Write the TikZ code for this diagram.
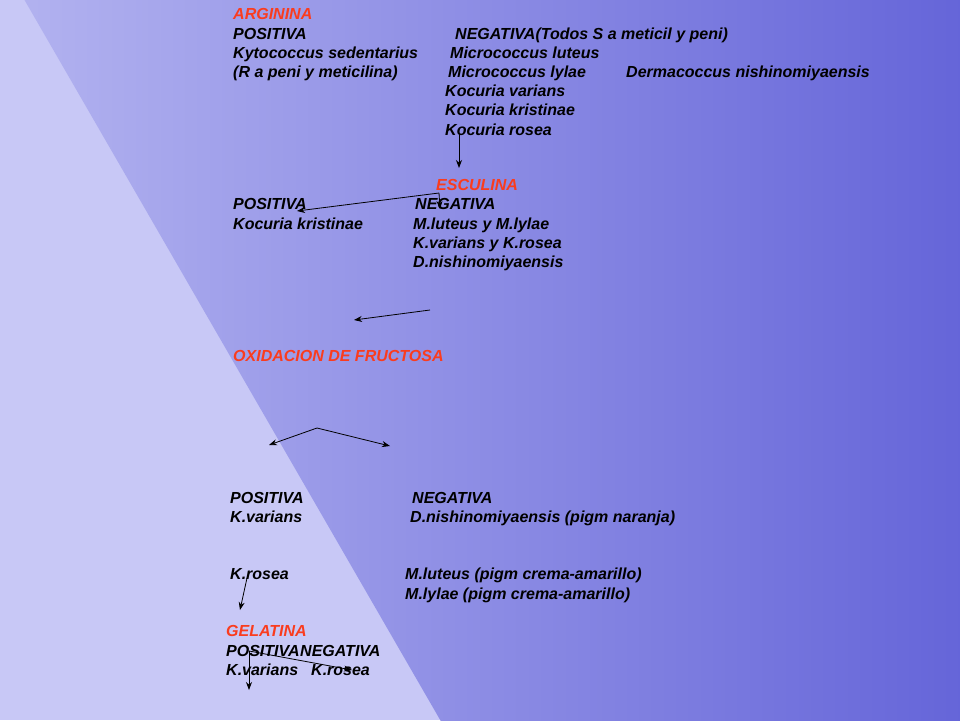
\documentclass[tikz,border=0pt]{standalone}
\usepackage{fontspec}
\usetikzlibrary{arrows.meta}
\setmainfont{Liberation Sans}
\definecolor{lav}{RGB}{200,200,246}
\definecolor{dblue}{RGB}{45,45,200}
\definecolor{tred}{RGB}{250,60,30}
\begin{document}
\begin{tikzpicture}[x=1pt,y=-1pt,
  t/.style={anchor=base west,inner sep=0pt,font=\fontsize{16}{18}\selectfont\bfseries\itshape},
  r/.style={t,text=tred},
  arr/.style={-{Stealth[length=8pt,width=6pt]},line width=0.8pt}]
\useasboundingbox (0,0) rectangle (960,720);
\begin{scope}
\clip (0,0) rectangle (960,720);
\fill[lav] (0,0) rectangle (960,720);
\begin{scope}[shift={(700,360)},rotate=30]
\shade[left color=lav,middle color=lav,right color=dblue] (-405,-1200) rectangle (405,1200);
\end{scope}
\end{scope}
% ARGININA
\node[r] (arg) at (233,19) {ARGININA};
\node[t] (p1) at (233,39) {POSITIVA};
\node[t] (n1) at (455,39) {NEGATIVA(Todos S a meticil y peni)};
\node[t] (ky) at (233,58) {Kytococcus sedentarius};
\node[t] (ml) at (450,58) {Micrococcus luteus};
\node[t] (rr) at (233,77) {(R a peni y meticilina)};
\node[t] (mly) at (448,77) {Micrococcus lylae};
\node[t] (dn) at (626,77) {Dermacoccus nishinomiyaensis};
\node[t] (kv) at (445,96) {Kocuria varians};
\node[t] (kk) at (445,115) {Kocuria kristinae};
\node[t] (kr) at (445,135) {Kocuria rosea};
% ESCULINA
\node[r] (esc) at (436,190) {ESCULINA};
\node[t] (p2) at (233,209) {POSITIVA};
\node[t] (n2) at (415,209) {NEGATIVA};
\node[t] (kk2) at (233,229) {Kocuria kristinae};
\node[t] (e1) at (413,229) {M.luteus y M.lylae};
\node[t] (e2) at (413,248) {K.varians y K.rosea};
\node[t] (e3) at (413,267) {D.nishinomiyaensis};
% FRUCTOSA
\node[r] (fr) at (233,361) {OXIDACION DE FRUCTOSA};
\node[t] (p3) at (230,503) {POSITIVA};
\node[t] (n3) at (412,503) {NEGATIVA};
\node[t] (f1) at (230,522) {K.varians};
\node[t] (f2) at (410,522) {D.nishinomiyaensis (pigm naranja)};
\node[t] (f3) at (230,579) {K.rosea};
\node[t] (f4) at (405,579) {M.luteus (pigm crema-amarillo)};
\node[t] (f5) at (405,599) {M.lylae (pigm crema-amarillo)};
% GELATINA
\node[r] (gel) at (226,636) {GELATINA};
\node[t] (p4) at (226,656) {POSITIVA};
\node[t] (n4) at (300,656) {NEGATIVA};
\node[t] (g1) at (226,675) {K.varians};
\node[t] (g2) at (311,675) {K.rosea};
% arrows
\coordinate (a0) at (459,133); \coordinate (a1) at (459,168);
\draw[arr] (a0) -- (a1);
\coordinate (b0) at (439,193); \coordinate (b1) at (297,211); \coordinate (b2) at (440,209);
\draw[arr] (b0) -- (b1);
\draw[arr] (b0) -- (b2);
\coordinate (c0) at (430,310); \coordinate (c1) at (354,320);
\draw[arr] (c0) -- (c1);
\coordinate (d0) at (317,428); \coordinate (d1) at (269,445); \coordinate (d2) at (390,446);
\draw[arr] (d0) -- (d1);
\draw[arr] (d0) -- (d2);
\coordinate (e0) at (247,578); \coordinate (e1) at (240,610);
\draw[arr] (e0) -- (e1);
\coordinate (g0) at (249,651); \coordinate (gA) at (249,690); \coordinate (gB) at (352,670);
\draw[arr] (g0) -- (gA);
\draw[arr] (g0) -- (gB);
\end{tikzpicture}
\end{document}
